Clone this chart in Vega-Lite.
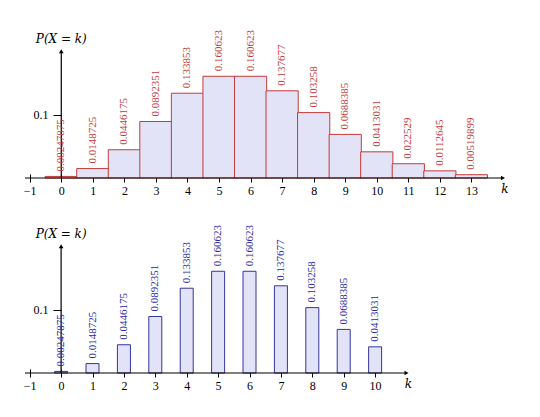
{
  "$schema": "https://vega.github.io/schema/vega-lite/v6.json",
  "description": "Poisson-like PMF, two panels: histogram-style and narrow bars",
  "background": "white",
  "padding": {"left": 20, "top": 26, "right": 0, "bottom": 0},
  "spacing": 25,
  "config": {
    "view": {"stroke": null},
    "font": "Liberation Serif",
    "axis": {
      "domain": false,
      "grid": false,
      "title": null,
      "labelColor": "black",
      "tickColor": "black",
      "labelOverlap": false,
      "labelBound": false,
      "labelFlush": false,
      "labelFont": "Liberation Serif",
      "labelFontSize": 12,
      "tickSize": 8
    },
    "axisX": {"offset": -4, "labelPadding": 3, "format": "d"},
    "axisY": {"labelPadding": 5, "format": ".1f", "offset": -41}
  },
  "datasets": {
    "full": [
      {"k": 0, "p": 0.00247875, "label": "0.00247875"},
      {"k": 1, "p": 0.0148725, "label": "0.0148725"},
      {"k": 2, "p": 0.0446175, "label": "0.0446175"},
      {"k": 3, "p": 0.0892351, "label": "0.0892351"},
      {"k": 4, "p": 0.133853, "label": "0.133853"},
      {"k": 5, "p": 0.160623, "label": "0.160623"},
      {"k": 6, "p": 0.160623, "label": "0.160623"},
      {"k": 7, "p": 0.137677, "label": "0.137677"},
      {"k": 8, "p": 0.103258, "label": "0.103258"},
      {"k": 9, "p": 0.0688385, "label": "0.0688385"},
      {"k": 10, "p": 0.0413031, "label": "0.0413031"},
      {"k": 11, "p": 0.022529, "label": "0.022529"},
      {"k": 12, "p": 0.0112645, "label": "0.0112645"},
      {"k": 13, "p": 0.00519899, "label": "0.00519899"}
    ],
    "short": [
      {"k": 0, "p": 0.00247875, "label": "0.00247875"},
      {"k": 1, "p": 0.0148725, "label": "0.0148725"},
      {"k": 2, "p": 0.0446175, "label": "0.0446175"},
      {"k": 3, "p": 0.0892351, "label": "0.0892351"},
      {"k": 4, "p": 0.133853, "label": "0.133853"},
      {"k": 5, "p": 0.160623, "label": "0.160623"},
      {"k": 6, "p": 0.160623, "label": "0.160623"},
      {"k": 7, "p": 0.137677, "label": "0.137677"},
      {"k": 8, "p": 0.103258, "label": "0.103258"},
      {"k": 9, "p": 0.0688385, "label": "0.0688385"},
      {"k": 10, "p": 0.0413031, "label": "0.0413031"}
    ],
    "one": [{}]
  },
  "vconcat": [
    {
      "width": 499,
      "height": 152,
      "layer": [
        {
          "data": {"name": "full"},
          "mark": {"type": "bar", "width": 32.2, "fill": "#e3e3f7", "stroke": "#c23b3b", "strokeWidth": 1},
          "encoding": {
            "x": {"field": "k", "type": "quantitative", "scale": {"domain": [-1.15, 14.35], "nice": false, "zero": false}, "axis": {"values": [-1, 0, 1, 2, 3, 4, 5, 6, 7, 8, 9, 10, 11, 12, 13]}},
            "y": {"field": "p", "type": "quantitative", "scale": {"domain": [0, 0.24], "nice": false}, "axis": {"values": [0.1]}}
          }
        },
        {
          "data": {"name": "one"},
          "mark": {"type": "rule", "color": "black", "strokeWidth": 1.2},
          "encoding": {
            "x": {"datum": -1.15, "axis": {"values": [-1, 0, 1, 2, 3, 4, 5, 6, 7, 8, 9, 10, 11, 12, 13]}},
            "x2": {"datum": 14},
            "y": {"datum": 0, "axis": {"values": [0.1]}}
          }
        },
        {
          "data": {"name": "one"},
          "mark": {"type": "rule", "color": "black", "strokeWidth": 1.2},
          "encoding": {
            "x": {"datum": 0, "axis": {"values": [-1, 0, 1, 2, 3, 4, 5, 6, 7, 8, 9, 10, 11, 12, 13]}},
            "y": {"datum": 0, "axis": {"values": [0.1]}},
            "y2": {"datum": 0.2}
          }
        },
        {
          "data": {"name": "one"},
          "mark": {"type": "point", "shape": "triangle-right", "filled": true, "size": 22, "color": "black", "opacity": 1},
          "encoding": {
            "x": {"datum": 14, "axis": {"values": [-1, 0, 1, 2, 3, 4, 5, 6, 7, 8, 9, 10, 11, 12, 13]}},
            "y": {"datum": 0, "axis": {"values": [0.1]}}
          }
        },
        {
          "data": {"name": "one"},
          "mark": {"type": "point", "shape": "triangle-up", "filled": true, "size": 22, "color": "black", "opacity": 1},
          "encoding": {
            "x": {"datum": 0, "axis": {"values": [-1, 0, 1, 2, 3, 4, 5, 6, 7, 8, 9, 10, 11, 12, 13]}},
            "y": {"datum": 0.2, "axis": {"values": [0.1]}}
          }
        },
        {
          "data": {"name": "full"},
          "mark": {"type": "text", "font": "Liberation Serif", "angle": 270, "align": "left", "baseline": "middle", "dx": 5, "fontSize": 11, "color": "#c23b3b"},
          "encoding": {
            "x": {"field": "k", "type": "quantitative", "axis": {"values": [-1, 0, 1, 2, 3, 4, 5, 6, 7, 8, 9, 10, 11, 12, 13]}},
            "y": {"field": "p", "type": "quantitative", "axis": {"values": [0.1]}},
            "text": {"field": "label", "type": "nominal"}
          }
        },
        {
          "data": {"name": "one"},
          "mark": {"type": "text", "font": "DejaVu Serif", "text": "P(X = k)", "fontStyle": "italic", "fontSize": 12, "align": "center", "baseline": "middle", "color": "black"},
          "encoding": {
            "x": {"datum": 0, "axis": {"values": [-1, 0, 1, 2, 3, 4, 5, 6, 7, 8, 9, 10, 11, 12, 13]}},
            "y": {"datum": 0.22, "axis": {"values": [0.1]}}
          }
        },
        {
          "data": {"name": "one"},
          "mark": {"type": "text", "font": "DejaVu Serif", "text": "k", "fontStyle": "italic", "fontSize": 12, "align": "center", "baseline": "middle", "dy": 11, "dx": 2, "color": "black"},
          "encoding": {
            "x": {"datum": 14, "axis": {"values": [-1, 0, 1, 2, 3, 4, 5, 6, 7, 8, 9, 10, 11, 12, 13]}},
            "y": {"datum": 0, "axis": {"values": [0.1]}}
          }
        }
      ]
    },
    {
      "width": 402.5,
      "height": 152,
      "layer": [
        {
          "data": {"name": "short"},
          "mark": {"type": "bar", "width": 13, "fill": "#e3e3f7", "stroke": "#35359c", "strokeWidth": 1},
          "encoding": {
            "x": {"field": "k", "type": "quantitative", "scale": {"domain": [-1.15, 11.35], "nice": false, "zero": false}, "axis": {"values": [-1, 0, 1, 2, 3, 4, 5, 6, 7, 8, 9, 10]}},
            "y": {"field": "p", "type": "quantitative", "scale": {"domain": [0, 0.24], "nice": false}, "axis": {"values": [0.1]}}
          }
        },
        {
          "data": {"name": "one"},
          "mark": {"type": "rule", "color": "black", "strokeWidth": 1.2},
          "encoding": {
            "x": {"datum": -1.15, "axis": {"values": [-1, 0, 1, 2, 3, 4, 5, 6, 7, 8, 9, 10]}},
            "x2": {"datum": 11},
            "y": {"datum": 0, "axis": {"values": [0.1]}}
          }
        },
        {
          "data": {"name": "one"},
          "mark": {"type": "rule", "color": "black", "strokeWidth": 1.2},
          "encoding": {
            "x": {"datum": 0, "axis": {"values": [-1, 0, 1, 2, 3, 4, 5, 6, 7, 8, 9, 10]}},
            "y": {"datum": 0, "axis": {"values": [0.1]}},
            "y2": {"datum": 0.2}
          }
        },
        {
          "data": {"name": "one"},
          "mark": {"type": "point", "shape": "triangle-right", "filled": true, "size": 22, "color": "black", "opacity": 1},
          "encoding": {
            "x": {"datum": 11, "axis": {"values": [-1, 0, 1, 2, 3, 4, 5, 6, 7, 8, 9, 10]}},
            "y": {"datum": 0, "axis": {"values": [0.1]}}
          }
        },
        {
          "data": {"name": "one"},
          "mark": {"type": "point", "shape": "triangle-up", "filled": true, "size": 22, "color": "black", "opacity": 1},
          "encoding": {
            "x": {"datum": 0, "axis": {"values": [-1, 0, 1, 2, 3, 4, 5, 6, 7, 8, 9, 10]}},
            "y": {"datum": 0.2, "axis": {"values": [0.1]}}
          }
        },
        {
          "data": {"name": "short"},
          "mark": {"type": "text", "font": "Liberation Serif", "angle": 270, "align": "left", "baseline": "middle", "dx": 5, "fontSize": 11, "color": "#2a2aa6"},
          "encoding": {
            "x": {"field": "k", "type": "quantitative", "axis": {"values": [-1, 0, 1, 2, 3, 4, 5, 6, 7, 8, 9, 10]}},
            "y": {"field": "p", "type": "quantitative", "axis": {"values": [0.1]}},
            "text": {"field": "label", "type": "nominal"}
          }
        },
        {
          "data": {"name": "one"},
          "mark": {"type": "text", "font": "DejaVu Serif", "text": "P(X = k)", "fontStyle": "italic", "fontSize": 12, "align": "center", "baseline": "middle", "color": "black"},
          "encoding": {
            "x": {"datum": 0, "axis": {"values": [-1, 0, 1, 2, 3, 4, 5, 6, 7, 8, 9, 10]}},
            "y": {"datum": 0.22, "axis": {"values": [0.1]}}
          }
        },
        {
          "data": {"name": "one"},
          "mark": {"type": "text", "font": "DejaVu Serif", "text": "k", "fontStyle": "italic", "fontSize": 12, "align": "center", "baseline": "middle", "dy": 11, "dx": 2, "color": "black"},
          "encoding": {
            "x": {"datum": 11, "axis": {"values": [-1, 0, 1, 2, 3, 4, 5, 6, 7, 8, 9, 10]}},
            "y": {"datum": 0, "axis": {"values": [0.1]}}
          }
        }
      ]
    }
  ]
}
